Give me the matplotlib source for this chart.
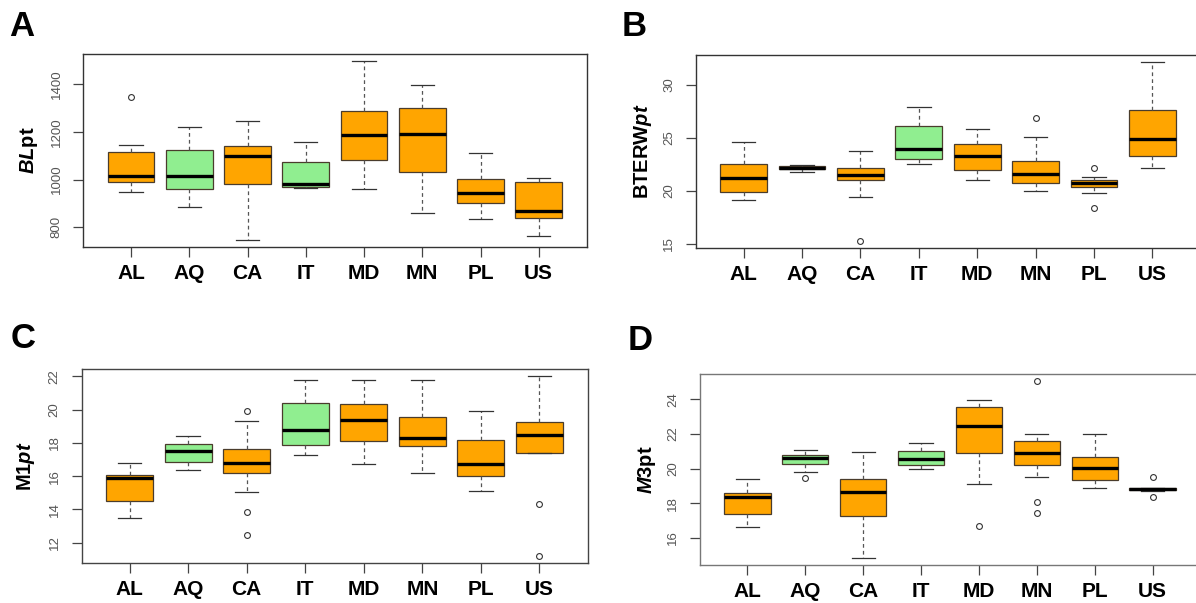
import matplotlib
matplotlib.use("Agg")
import matplotlib.pyplot as plt
from matplotlib.ticker import MultipleLocator

plt.rcParams['mathtext.fontset'] = 'custom'
plt.rcParams['mathtext.rm'] = 'Liberation Sans:bold'
plt.rcParams['mathtext.bf'] = 'Liberation Sans:bold'
plt.rcParams['mathtext.it'] = 'Liberation Sans:italic:bold'

groups = ['AL', 'AQ', 'CA', 'IT', 'MD', 'MN', 'PL', 'US']
green_groups = ['AQ', 'IT']

# A - BLpt
bl_whislo = [948, 885, 748, 965, 962, 859, 836, 764]
bl_q1 = [990, 962, 982, 968, 1081, 1031, 904, 841]
bl_med = [1015, 1015, 1098, 980, 1186, 1190, 943, 870]
bl_q3 = [1116, 1123, 1141, 1075, 1288, 1299, 1001, 989]
bl_whishi = [1147, 1222, 1246, 1159, 1496, 1397, 1110, 1008]
bl_fliers = [[1344], [], [], [], [], [], [], []]

# B - BTERWpt
bt_whislo = [19.12, 21.76, 19.46, 22.51, 21.0, 20.03, 19.75, 22.11]
bt_q1 = [19.87, 22.04, 21.0, 22.99, 22.01, 20.72, 20.34, 23.33]
bt_med = [21.23, 22.2, 21.48, 23.99, 23.33, 21.63, 20.75, 24.87]
bt_q3 = [22.51, 22.33, 22.2, 26.13, 24.46, 22.86, 21.0, 27.61]
bt_whishi = [24.59, 22.48, 23.74, 27.92, 25.85, 25.09, 21.29, 32.14]
bt_fliers = [[], [], [15.28], [], [], [26.86], [22.14, 18.39], []]

# C - M1pt
m1_whislo = [13.48, 16.38, 15.02, 17.28, 16.72, 16.16, 15.1, 17.4]
m1_q1 = [14.5, 16.86, 16.16, 17.86, 18.1, 17.82, 16.02, 17.4]
m1_med = [15.86, 17.5, 16.82, 18.78, 19.38, 18.32, 16.72, 18.5]
m1_q3 = [16.08, 17.96, 17.62, 20.42, 20.36, 19.56, 18.16, 19.26]
m1_whishi = [16.82, 18.4, 19.32, 21.8, 21.8, 21.8, 19.9, 22.0]
m1_fliers = [[], [], [19.9, 13.84, 12.48], [], [], [], [], [14.3, 11.22]]

# D - M3pt
m3_whislo = [16.63, 19.79, 14.85, 20.0, 19.12, 19.5, 18.9, 18.69]
m3_q1 = [17.37, 20.25, 17.27, 20.23, 20.9, 20.19, 19.33, 18.79]
m3_med = [18.35, 20.6, 18.63, 20.56, 22.46, 20.9, 20.02, 18.85]
m3_q3 = [18.58, 20.77, 19.4, 21.04, 23.56, 21.58, 20.69, 18.88]
m3_whishi = [19.42, 21.1, 20.96, 21.48, 23.98, 21.98, 21.98, 18.88]
m3_fliers = [[], [19.44], [], [], [16.71], [25.06, 18.08, 17.46], [], [19.52, 18.38]]

W, H = 1196, 603
fig = plt.figure(figsize=(W / 100, H / 100), dpi=100)

LABEL_FONT = ['Liberation Sans', 'DejaVu Sans']


def px_axes(left, right, top, bottom):
    return fig.add_axes([left / W, 1 - bottom / H, (right - left) / W, (bottom - top) / H])


def draw_panel(ax, whislo, q1, med, q3, whishi, fliers, step, ylabel, ylab_x, frame_color):
    stats = []
    for i, g in enumerate(groups):
        stats.append(dict(label=g, whislo=whislo[i], q1=q1[i], med=med[i],
                          q3=q3[i], whishi=whishi[i], fliers=fliers[i]))
    res = ax.bxp(stats, positions=range(1, len(groups) + 1), widths=0.8,
                 capwidths=0.4, patch_artist=True, showfliers=True,
                 boxprops=dict(edgecolor='#4a3c2c', linewidth=0.9),
                 medianprops=dict(color='black', linewidth=2.4, solid_capstyle='butt'),
                 whiskerprops=dict(color='#555555', linewidth=0.9, linestyle=(0, (3, 2.5))),
                 capprops=dict(color='#333333', linewidth=0.9),
                 flierprops=dict(marker='o', markersize=4.2, markerfacecolor='none',
                                 markeredgecolor='#333333', markeredgewidth=0.8))
    for patch, g in zip(res['boxes'], groups):
        patch.set_facecolor('#90EE90' if g in green_groups else '#FFA500')

    all_lo = list(whislo) + [v for f in fliers for v in f]
    all_hi = list(whishi) + [v for f in fliers for v in f]
    lo, hi = min(all_lo), max(all_hi)
    pad = (hi - lo) * 0.04
    ax.set_ylim(lo - pad, hi + pad)
    ax.set_xlim(0.5 - 0.32, len(groups) + 0.5 + 0.32)
    ax.yaxis.set_major_locator(MultipleLocator(step))

    ax.tick_params(axis='both', length=7, width=0.9, color='#444444')
    ax.tick_params(axis='x', pad=5)
    ax.tick_params(axis='y', pad=8, labelsize=9.5, labelcolor='#555555')
    plt.setp(ax.get_yticklabels(), rotation=90, va='center', family='Liberation Sans')
    ax.set_xticks(range(1, len(groups) + 1))
    ax.set_xticklabels(groups, fontsize=15, fontweight='bold', family=LABEL_FONT)
    for sp in ax.spines.values():
        sp.set_color(frame_color)
        sp.set_linewidth(1.0)

    ax.set_ylabel(ylabel, fontsize=14.5)
    bb = ax.get_position()
    ax.yaxis.set_label_coords((ylab_x / W - bb.x0) / bb.width, 0.5)


axA = px_axes(83.3, 586.5, 54, 247)
draw_panel(axA, bl_whislo, bl_q1, bl_med, bl_q3, bl_whishi, bl_fliers, 200,
           r'$\mathit{BL}\mathrm{pt}$', 40, '#333333')

axB = px_axes(696, 1200, 55, 248)
draw_panel(axB, bt_whislo, bt_q1, bt_med, bt_q3, bt_whishi, bt_fliers, 5,
           r'$\mathrm{BTERW}\mathit{pt}$', 654, '#333333')

axC = px_axes(81.5, 587.5, 369, 563)
draw_panel(axC, m1_whislo, m1_q1, m1_med, m1_q3, m1_whishi, m1_fliers, 2,
           r'$\mathrm{M1}\mathit{pt}$', 37, '#444444')

axD = px_axes(700, 1200, 374, 565)
draw_panel(axD, m3_whislo, m3_q1, m3_med, m3_q3, m3_whishi, m3_fliers, 2,
           r'$\mathit{M3}\mathrm{pt}$', 658, '#777777')

for letter, x, y in [('A', 22, 27), ('B', 634, 27), ('C', 23, 338), ('D', 640, 341)]:
    fig.text(x / W, 1 - y / H, letter, fontsize=25, fontweight='bold',
             family=LABEL_FONT, ha='center', va='center')

fig.savefig('out.png', dpi=100)
